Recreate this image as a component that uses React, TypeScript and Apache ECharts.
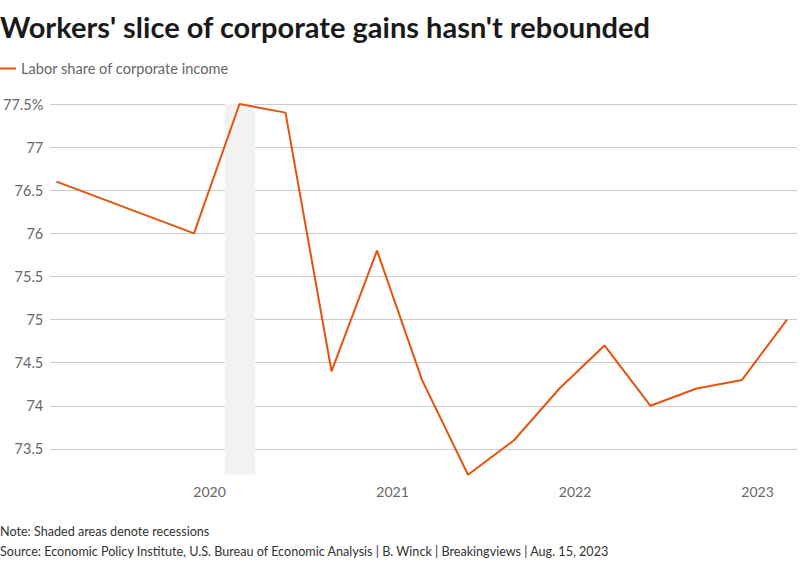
import React, { useEffect, useRef } from "react";
import * as echarts from "echarts";

const dates = [
  "2019-03-01", "2019-12-01", "2020-03-01", "2020-06-01", "2020-09-01",
  "2020-12-01", "2021-03-01", "2021-06-01", "2021-09-01", "2021-12-01",
  "2022-03-01", "2022-06-01", "2022-09-01", "2022-12-01", "2023-03-01",
];
const laborShare = [76.6, 76.0, 77.5, 77.4, 74.4, 75.8, 74.3, 73.2, 73.6, 74.2, 74.7, 74.0, 74.2, 74.3, 75.0];
const recessionStart = ["2020-02-01"];
const recessionEnd = ["2020-04-01"];
const yTopLabel = "77.5%";

const FONT = "Lato";

export default function App() {
  const ref = useRef<HTMLDivElement>(null);
  useEffect(() => {
    document.body.style.margin = "0";
    const chart = echarts.init(ref.current!, null, { renderer: "svg" });
    chart.setOption({
      animation: false,
      backgroundColor: "#ffffff",
      title: {
        text: "Workers' slice of corporate gains hasn't rebounded",
        left: 0,
        top: 12,
        padding: 0,
        textStyle: { fontFamily: FONT, fontSize: 29, fontWeight: "bold", color: "#1a1a1a" },
      },
      legend: {
        left: 0,
        top: 61,
        padding: 0,
        icon: "rect",
        itemWidth: 16,
        itemHeight: 2,
        textStyle: { fontFamily: FONT, fontSize: 14.6, color: "#666666" },
        data: ["Labor share of corporate income"],
      },
      grid: [
        { left: 46, right: 3, top: 104, bottom: 71 },
        { left: 56.5, right: 13, top: 104, bottom: 71 },
      ],
      xAxis: [
        { type: "value", gridIndex: 0, min: 0, max: 1, show: false },
        {
          type: "time",
          gridIndex: 1,
          min: dates[0],
          max: dates[dates.length - 1],
          splitNumber: 4,
          axisLine: { show: false },
          axisTick: { show: false },
          splitLine: { show: false },
          axisLabel: {
            formatter: (v: number) => {
              const d = new Date(v);
              return d.getMonth() === 0 && d.getDate() === 1 ? String(d.getFullYear()) : "";
            },
            margin: -8,
            fontFamily: FONT,
            fontSize: 14,
            color: "#666666",
            showMinLabel: false,
            showMaxLabel: false,
          },
        },
      ],
      yAxis: [
        {
          type: "value",
          gridIndex: 0,
          min: 73,
          max: 77.5,
          interval: 0.5,
          axisLine: { show: false },
          axisTick: { show: false },
          splitLine: { show: true, showMinLine: false, lineStyle: { color: "#cccccc", width: 1 } },
          axisLabel: {
            margin: 7,
            fontFamily: FONT,
            fontSize: 14.5,
            color: "#666666",
            formatter: (v: number) => (v === 73 ? "" : v === 77.5 ? yTopLabel : String(v)),
          },
        },
        { type: "value", gridIndex: 1, min: 73, max: 77.5, interval: 0.5, show: false, splitLine: { show: false } },
      ],
      series: [
        {
          name: "Labor share of corporate income",
          type: "line",
          xAxisIndex: 1,
          yAxisIndex: 1,
          data: dates.map((d, i) => [d, laborShare[i]]),
          showSymbol: false,
          symbol: "none",
          lineStyle: { color: "#e5540f", width: 2 },
          itemStyle: { color: "#e5540f" },
          z: 3,
          markArea: {
            silent: true,
            itemStyle: { color: "#f2f2f2" },
            data: recessionStart.map((s, i) => [
              { xAxis: s, yAxis: 73.2 },
              { xAxis: recessionEnd[i], yAxis: 77.5 },
            ]),
          },
        },
      ],
      graphic: [
        {
          type: "text",
          left: 0,
          top: 525,
          style: { text: "Note: Shaded areas denote recessions", fontFamily: FONT, fontSize: 12.6, fill: "#333333" },
        },
        {
          type: "text",
          left: 0,
          top: 545,
          style: {
            text: "Source: Economic Policy Institute, U.S. Bureau of Economic Analysis | B. Winck | Breakingviews | Aug. 15, 2023",
            fontFamily: FONT,
            fontSize: 12.6,
            fill: "#333333",
          },
        },
      ],
    });
    return () => chart.dispose();
  }, []);
  return <div ref={ref} style={{ width: 800, height: 563 }} />;
}
